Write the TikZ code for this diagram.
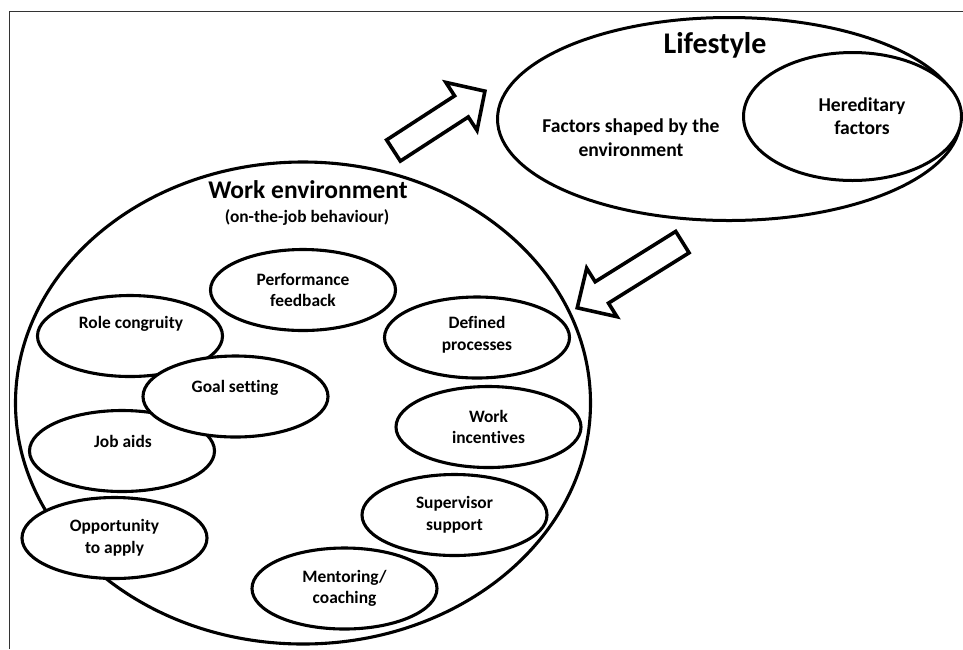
\documentclass[tikz,border=0pt]{standalone}
\usepackage{fontspec}
\setmainfont{Carlito}[Ligatures=CommonOff]
\usetikzlibrary{shapes.geometric}
\begin{document}
\begin{tikzpicture}[x=1pt,y=-1pt,
  bubble/.style={ellipse, draw, line width=3.1pt, fill=white, minimum width=185pt, minimum height=81pt, inner sep=0pt,
    font=\fontsize{17.4}{21.5}\selectfont\bfseries, align=center},
  lbl/.style={font=\fontsize{17.4}{21.5}\selectfont\bfseries, align=center, inner sep=0pt},
  biglbl/.style={font=\fontsize{19.6}{23.5}\selectfont\bfseries, align=center, inner sep=0pt},
  blockarrow/.style={draw, line width=3.6pt, fill=white, line join=miter},
  frameline/.style={line width=1pt, black!80}
]
\useasboundingbox (0,0) rectangle (963,649);
% frame
\coordinate (fbl) at (9.5,649);
\coordinate (ftl) at (9.5,11);
\coordinate (ftr) at (963,11);
\draw[frameline] (fbl) -- (ftl) -- (ftr);

% Work environment
\node[ellipse, draw, line width=3.1pt, minimum width=575pt, minimum height=482pt, inner sep=0pt] (work) at (303,403) {};
\node[font=\fontsize{25.5}{30}\selectfont\bfseries, inner sep=0pt] (workT) at (308,190) {Work environment};
\node[lbl] (workS) at (307,218) {(on-the-job behaviour)};

% Lifestyle
\node[ellipse, draw, line width=3pt, minimum width=463pt, minimum height=203pt, inner sep=0pt] (life) at (729,119) {};
\node[font=\fontsize{30}{34}\selectfont\bfseries, inner sep=0pt] (lifeT) at (715,45) {Lifestyle};
\node[biglbl] (envT) at (631,137.5) {Factors shaped by the\\environment};
\node[ellipse, draw, line width=3pt, minimum width=218pt, minimum height=128pt, inner sep=0pt, fill=white] (hered) at (852.5,116.5) {};
\node[biglbl] (heredT) at (862,116) {Hereditary\\factors};

% block arrows
\begin{scope}[shift={(393.5,150.5)}, rotate=33]
  \draw[blockarrow] (0,12.6) -- (81,12.6) -- (81,28.6) -- (109,0) -- (81,-28.6) -- (81,-12.6) -- (0,-12.6) -- cycle;
\end{scope}
\begin{scope}[shift={(682.4,242.1)}, rotate=212]
  \draw[blockarrow] (0,12.6) -- (95,12.6) -- (95,28.6) -- (124,0) -- (95,-28.6) -- (95,-12.6) -- (0,-12.6) -- cycle;
\end{scope}

% inner factors
\node[bubble] (perf) at (303,290) {Performance\\feedback};
\node[bubble] (role) at (130,336) {};
\node[lbl] (roleT) at (131,324) {Role congruity};
\node[bubble] (jobaids) at (122,451) {};
\node[lbl] (jobaidsT) at (123,441) {Job aids};
\node[bubble] (goal) at (235.5,396.5) {};
\node[lbl] (goalT) at (235,388) {Goal setting};
\node[bubble] (opp) at (114.5,538) {Opportunity\\to apply};
\node[bubble] (mentor) at (344.5,588.5) {Mentoring/\\coaching};
\node[bubble] (defined) at (477,337.5) {};
\node[lbl] (definedT) at (477,335) {Defined\\processes};
\node[bubble] (incent) at (488.5,427) {Work\\incentives};
\node[bubble] (superv) at (454.5,515) {Supervisor\\support};
\end{tikzpicture}
\end{document}
